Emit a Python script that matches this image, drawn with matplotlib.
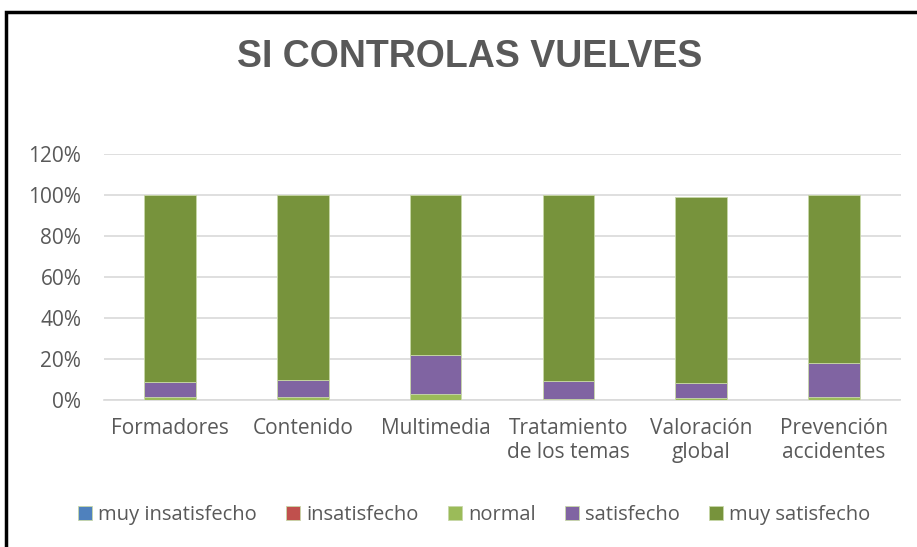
import matplotlib.pyplot as plt
from matplotlib.patches import Rectangle
from matplotlib.ticker import PercentFormatter

categorias = ['Formadores', 'Contenido', 'Multimedia', 'Tratamiento\nde los temas',
              'Valoración\nglobal', 'Prevención\naccidentes']
muy_insatisfecho = [0, 0, 0, 0, 0, 0]
insatisfecho = [0, 0, 0, 0, 0, 0]
normal = [1.3, 1.3, 3.1, 0.4, 1.0, 1.5]
satisfecho = [7.5, 8.3, 18.7, 8.7, 7.1, 16.4]
muy_satisfecho = [91.2, 90.4, 78.2, 90.9, 90.9, 82.1]

series = [
    ('muy insatisfecho', muy_insatisfecho, '#4f81bd'),
    ('insatisfecho', insatisfecho, '#c0504d'),
    ('normal', normal, '#9bbb59'),
    ('satisfecho', satisfecho, '#8064a2'),
    ('muy satisfecho', muy_satisfecho, '#77933c'),
]

plt.rcParams['font.family'] = ['Open Sans', 'DejaVu Sans']
gris = '#595959'

fig = plt.figure(figsize=(9.17, 5.47), dpi=100)
ax = fig.add_axes([103.5 / 917, 1 - 400 / 547, 797 / 917, 246 / 547])

x = range(len(categorias))
base = [0] * len(categorias)
for nombre, valores, color in series:
    ax.bar(x, valores, width=0.39, bottom=base, color=color, label=nombre,
           edgecolor='#c8d8a8', linewidth=0.6, zorder=3)
    base = [b + v for b, v in zip(base, valores)]

ax.set_ylim(0, 120)
ax.set_yticks(range(0, 121, 20))
ax.yaxis.set_major_formatter(PercentFormatter(decimals=0))
ax.set_xlim(-0.5, len(categorias) - 0.5)
ax.set_xticks(list(x))
ax.set_xticklabels(categorias, fontsize=15, color=gris, linespacing=1.2)
ax.tick_params(axis='y', labelsize=15, labelcolor=gris, length=0, pad=16)
ax.tick_params(axis='x', length=0, pad=13)
ax.grid(axis='y', color='#d9d9d9', linewidth=1.2, zorder=0)
for s in ['top', 'right', 'left']:
    ax.spines[s].set_visible(False)
ax.spines['bottom'].set_color('#d9d9d9')
ax.spines['bottom'].set_linewidth(1.2)

fig.text(470 / 917, 1 - 57 / 547, 'SI CONTROLAS VUELVES', ha='center', va='center',
         fontsize=27, fontweight='bold', color=gris, family='Liberation Sans')

fig.legend(loc='center', bbox_to_anchor=(474 / 917, 1 - 515 / 547), ncol=5, frameon=False,
           fontsize=14.5, labelcolor=gris, handlelength=0.7, handleheight=0.7,
           handletextpad=0.3, columnspacing=1.45)

fig.patches.append(Rectangle((6 / 917, -0.1), 2, 1.1 - 12 / 547,
                             transform=fig.transFigure, fill=False,
                             edgecolor='black', linewidth=2.5))

fig.savefig('out.png', dpi=100)
